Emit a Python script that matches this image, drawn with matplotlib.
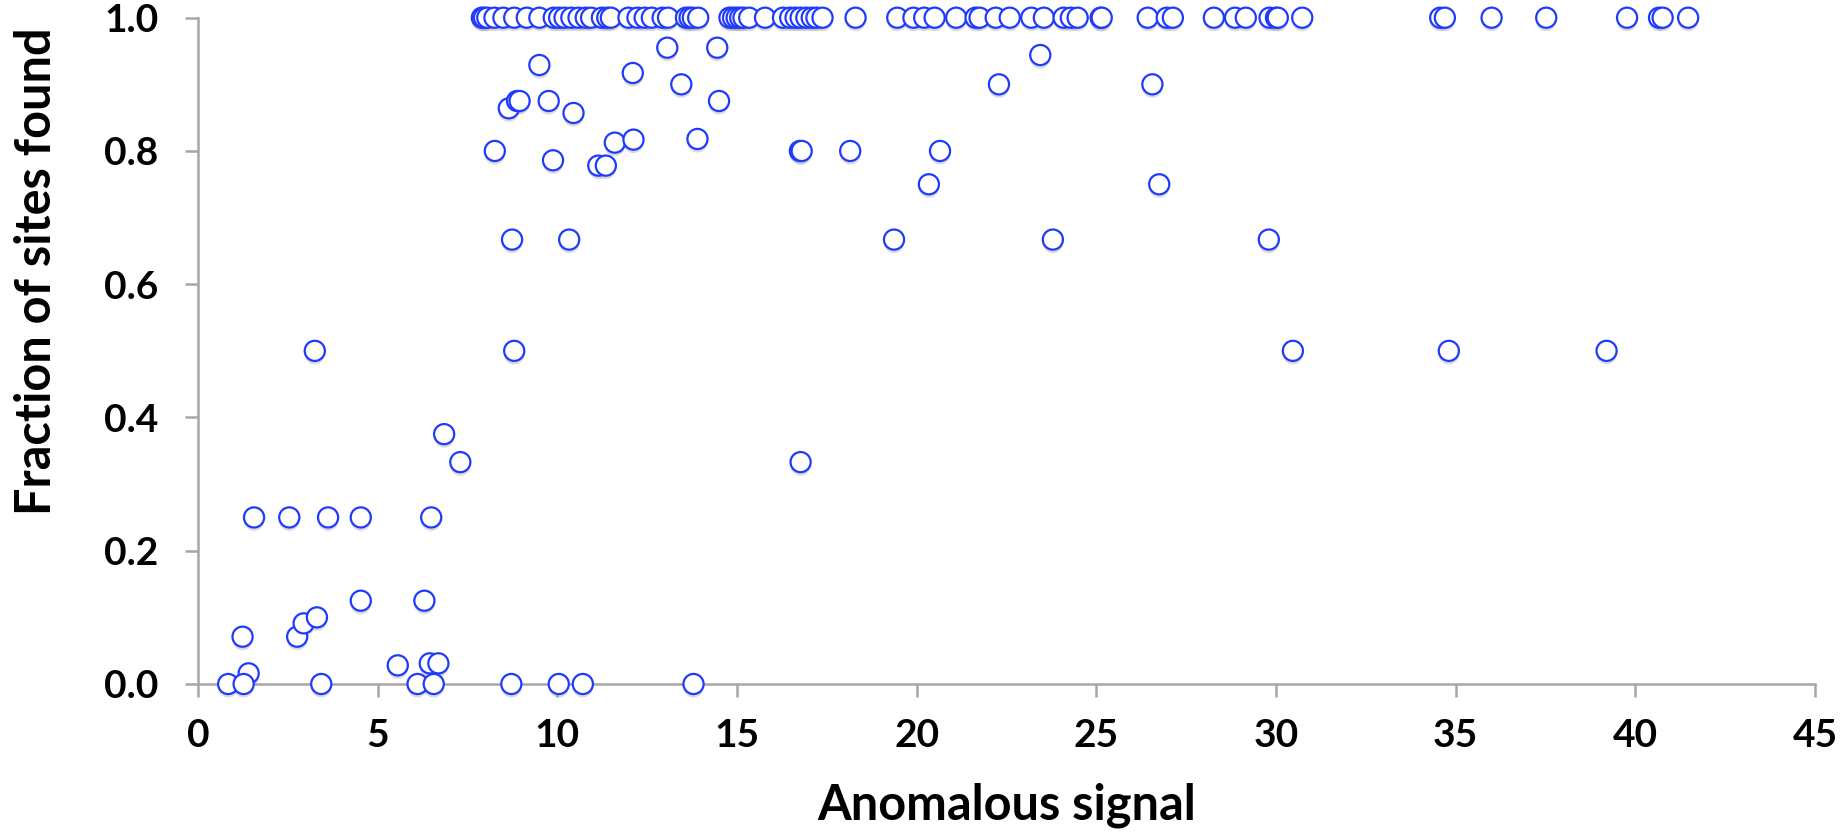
import matplotlib.pyplot as plt
import matplotlib.patheffects as pe

# Sites where every site was found (fraction = 1.0)
signal_all_found = [
    7.90, 7.96, 8.05, 8.25, 8.50, 8.80, 9.15, 9.50, 9.90, 10.05, 10.20, 10.39,
    10.59, 10.79, 10.94, 11.24, 11.39, 11.49, 11.98, 12.23, 12.43, 12.63, 12.93,
    13.08, 13.58, 13.68, 13.77, 13.92, 14.79, 14.89, 14.99, 15.09, 15.18, 15.34,
    15.78, 16.28, 16.48, 16.63, 16.77, 16.93, 17.08, 17.21, 17.38, 18.30, 19.46,
    19.91, 20.21, 20.50, 21.10, 21.64, 21.75, 22.20, 22.59, 23.19, 23.54, 24.09,
    24.29, 24.48, 25.12, 25.15, 26.43, 26.96, 27.13, 28.27, 28.86, 29.16, 29.82,
    30.00, 30.05, 30.73, 34.57, 34.70, 36.00, 37.52, 39.77, 40.66, 40.76, 41.47,
]

# Everything else: (signal, fraction found)
signal_partial = [
    13.06, 14.45, 9.50, 12.10, 13.45, 14.50, 8.65, 8.88, 8.95, 9.76, 10.45,
    8.26, 9.88, 11.14, 11.35, 11.60, 12.12, 13.90, 8.74, 10.33, 3.25, 8.80,
    6.85, 7.30, 16.75, 16.80, 18.15, 20.65, 20.34, 19.37, 23.79, 22.29, 16.77,
    23.44, 26.56, 26.75, 29.80, 30.47, 34.81, 39.20,
    1.56, 2.54, 3.62, 4.53, 6.49, 4.53, 6.30, 1.24, 2.76, 2.94, 3.31,
    1.41, 5.56, 6.45, 6.69,
    0.84, 1.27, 3.43, 6.11, 6.56, 8.72, 10.04, 10.71, 13.79,
]
fraction_partial = [
    0.955, 0.955, 0.929, 0.917, 0.900, 0.875, 0.864, 0.875, 0.875, 0.875, 0.857,
    0.800, 0.786, 0.778, 0.778, 0.8125, 0.817, 0.818, 0.667, 0.667, 0.500, 0.500,
    0.375, 0.333, 0.800, 0.800, 0.800, 0.800, 0.750, 0.667, 0.667, 0.900, 0.333,
    0.944, 0.900, 0.750, 0.667, 0.500, 0.500, 0.500,
    0.250, 0.250, 0.250, 0.250, 0.250, 0.125, 0.125, 0.071, 0.071, 0.091, 0.100,
    0.016, 0.028, 0.031, 0.031,
    0.0, 0.0, 0.0, 0.0, 0.0, 0.0, 0.0, 0.0, 0.0,
]

x_ticks = [0, 5, 10, 15, 20, 25, 30, 35, 40, 45]
y_ticks = [0.0, 0.2, 0.4, 0.6, 0.8, 1.0]

signal = signal_all_found + signal_partial
fraction = [1.0] * len(signal_all_found) + fraction_partial

plt.rcParams["font.family"] = ["Lato", "DejaVu Sans"]
plt.rcParams["font.weight"] = "bold"

fig = plt.figure(figsize=(18.48, 8.32), dpi=100)
ax = fig.add_axes([198 / 1848, 1 - 684 / 832, 1617 / 1848, 666.3 / 832])

ax.scatter(
    signal,
    fraction,
    s=210,
    facecolor="white",
    edgecolor="#1f3aff",
    linewidth=1.6,
    clip_on=False,
    zorder=3,
    path_effects=[
        pe.SimplePatchShadow(offset=(0, -2.5), shadow_rgbFace="#999999", alpha=0.35),
        pe.Normal(),
    ],
)

ax.set_xlim(0, 45)
ax.set_ylim(0, 1.0)
ax.set_xticks(x_ticks)
ax.set_xticklabels([str(t) for t in x_ticks])
ax.set_yticks(y_ticks)
ax.set_yticklabels([f"{t:.1f}" for t in y_ticks])

ax.spines[["top", "right"]].set_visible(False)
for side in ["left", "bottom"]:
    ax.spines[side].set_color("#a6a6a6")
    ax.spines[side].set_linewidth(1.8)

ax.tick_params(axis="both", direction="out", length=9.5, width=1.8,
               color="#a6a6a6", labelsize=28, labelcolor="black")
ax.tick_params(axis="x", pad=15)
ax.tick_params(axis="y", pad=19)

ax.set_xlabel("Anomalous signal", fontsize=35, fontweight="bold", labelpad=21)
ax.set_ylabel("Fraction of sites found", fontsize=35, fontweight="bold", va="center")
ax.yaxis.set_label_coords(-0.1, 0.62)

fig.savefig("out.png", dpi=100, facecolor="white")
